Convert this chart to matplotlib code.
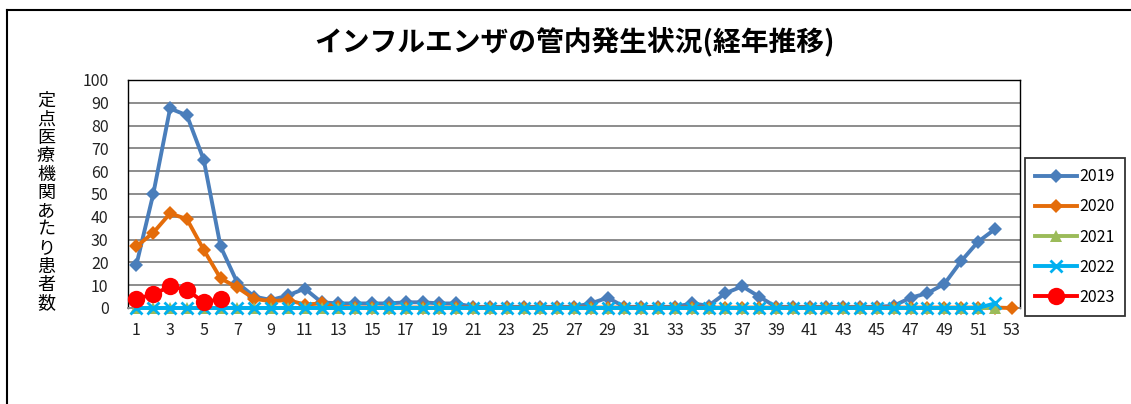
import matplotlib
matplotlib.use("Agg")
import matplotlib.pyplot as plt
from matplotlib.lines import Line2D

plt.rcParams['font.family'] = ['Noto Sans CJK JP', 'DejaVu Sans']

title = "インフルエンザの管内発生状況(経年推移)"
ylabel_text = "定点医療機関あたり患者数"
years = ["2019", "2020", "2021", "2022", "2023"]

weeks_2019 = list(range(1, 53))
vals_2019 = [19, 50, 87.5, 84.5, 65, 27, 11, 5, 3.5, 5.5, 8.5, 2.5, 2, 2, 2, 2, 2.5, 2.5, 2, 2,
             0.5, 0.5, 0.5, 0.5, 0.5, 0.5, 0.5, 2, 4.5, 0.5, 0.5, 0.5, 0.5, 2, 1, 6.5, 9.5, 5,
             0.5, 0.5, 0.5, 0.5, 0.5, 0.5, 0.5, 1, 4.5, 6.5, 10.5, 20.5, 29, 34.5]

weeks_2020 = list(range(1, 54))
vals_2020 = [27, 33, 41.5, 39, 25.5, 13, 9, 4, 3, 3.5, 1.5, 2, 0.5] + [0.2] * 39 + [0]

weeks_2021 = list(range(1, 53))
vals_2021 = [0] * 52

weeks_2022 = list(range(1, 53))
vals_2022 = [0] * 51 + [2]

weeks_2023 = list(range(1, 7))
vals_2023 = [4, 6, 9.5, 8, 2.5, 4]

colors = ["#4A7EBB", "#E46C0A", "#9BBB59", "#00B0F0", "#FF0000"]
markers = ["D", "D", "^", "x", "o"]
msizes = [7, 7, 8, 9, 12.5]

fig = plt.figure(figsize=(11.31, 4.04), dpi=100)
W, H = 1131, 404
ax = fig.add_axes([128 / W, 1 - 308 / H, (1020 - 128) / W, (308 - 80) / H])

series = [(weeks_2019, vals_2019), (weeks_2020, vals_2020), (weeks_2021, vals_2021),
          (weeks_2022, vals_2022), (weeks_2023, vals_2023)]
handles = []
for (x, y), c, m, ms, lab in zip(series, colors, markers, msizes, years):
    kw = dict(color=c, lw=2.8, marker=m, markersize=ms, label=lab, clip_on=False, zorder=3)
    if m == "x":
        kw.update(markeredgewidth=2)
    else:
        kw.update(markeredgewidth=0)
    ln, = ax.plot(x, y, **kw)
    handles.append(ln)

ax.set_xlim(0.5, 53.5)
ax.set_ylim(0, 100)
ax.set_yticks(range(0, 101, 10))
ax.set_xticks(range(1, 54, 2))
ax.tick_params(axis='both', length=0, labelsize=11.5, colors='#222222')
ax.tick_params(axis='x', pad=10)
ax.tick_params(axis='y', pad=14)
ax.yaxis.grid(True, color='#8C8C8C', lw=1.4)
ax.set_axisbelow(True)
for s in ['top', 'right', 'left']:
    ax.spines[s].set_color('black')
    ax.spines[s].set_linewidth(1.0)
ax.spines['bottom'].set_color('#8C8C8C')
ax.spines['bottom'].set_linewidth(1.4)

# outer chart frame
fig.add_artist(Line2D([7 / W, 7 / W], [1 - 10 / H, 0], color='black', lw=1.5, transform=fig.transFigure))
fig.add_artist(Line2D([7 / W, 1], [1 - 10 / H, 1 - 10 / H], color='black', lw=1.5, transform=fig.transFigure))

fig.text(575 / W, 1 - 42 / H, title, ha='center', va='center', fontsize=20, fontweight='bold')

for i, ch in enumerate(ylabel_text):
    fig.text(46 / W, 1 - (101 + i * 18.4) / H, ch, ha='center', va='center', fontsize=13)

leg = fig.legend(handles=handles, loc='upper left', bbox_to_anchor=(1025 / W, 1 - 158 / H),
                 frameon=True, fancybox=False, edgecolor='black', fontsize=11.5,
                 handlelength=2.6, handletextpad=0.15, labelspacing=0.82, borderpad=0.65,
                 borderaxespad=0)
leg.get_frame().set_linewidth(1.3)

fig.savefig("out.png", dpi=100)
